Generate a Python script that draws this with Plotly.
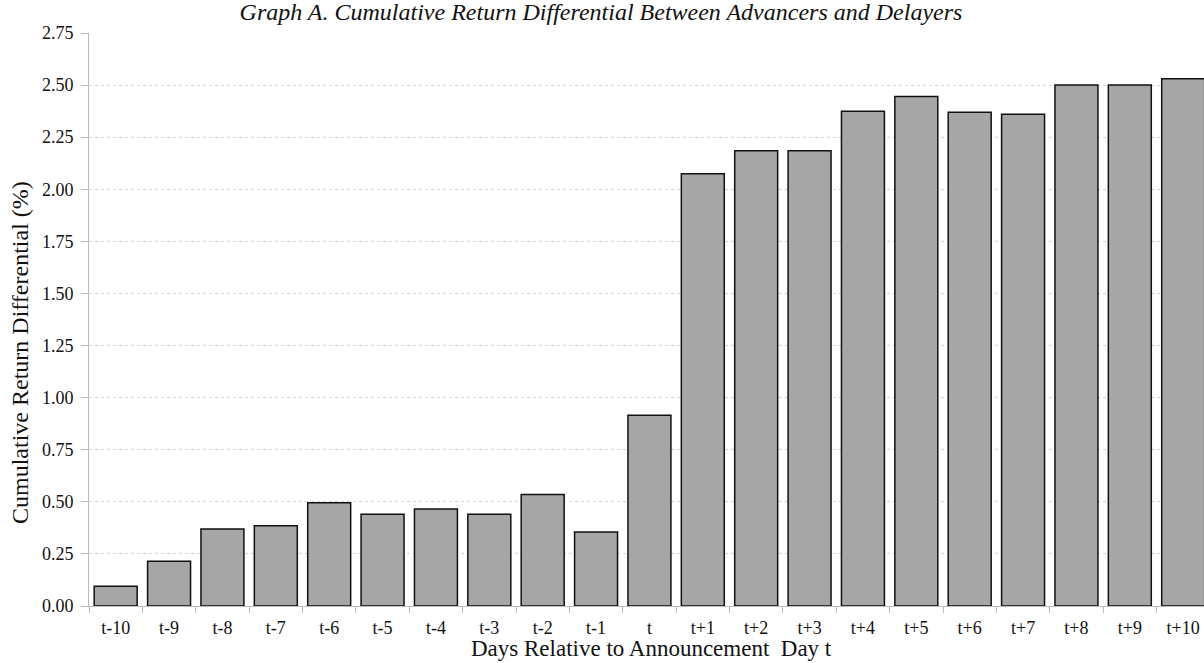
import plotly.graph_objects as go

categories = ["t-10", "t-9", "t-8", "t-7", "t-6", "t-5", "t-4", "t-3", "t-2", "t-1", "t",
              "t+1", "t+2", "t+3", "t+4", "t+5", "t+6", "t+7", "t+8", "t+9", "t+10"]
values = [0.095, 0.215, 0.37, 0.385, 0.495, 0.44, 0.465, 0.44, 0.535, 0.355, 0.915,
          2.075, 2.185, 2.185, 2.375, 2.445, 2.37, 2.36, 2.50, 2.50, 2.53]
y_ticks = [0, 0.25, 0.5, 0.75, 1.0, 1.25, 1.5, 1.75, 2.0, 2.25, 2.5, 2.75]

font_family = "Liberation Serif, DejaVu Serif, serif"

fig = go.Figure(go.Bar(
    x=categories, y=values,
    marker=dict(color="#a6a6a6", line=dict(color="#111111", width=1.5)),
))

fig.update_layout(
    width=1204, height=663,
    margin=dict(l=89, r=0, t=33, b=57),
    paper_bgcolor="white", plot_bgcolor="white",
    bargap=0.195,
    showlegend=False,
    font=dict(family=font_family, size=18, color="#111111"),
    title=dict(text="<i>Graph A. Cumulative Return Differential Between Advancers and Delayers</i>",
               x=601 / 1204, xanchor="center", y=1 - 12 / 663, yanchor="middle",
               font=dict(family=font_family, size=24, color="#111111")),
    annotations=[
        dict(text="Cumulative Return Differential (%)", textangle=-90,
             xref="paper", yref="paper", x=(20 - 89) / 1115, y=(606 - 353) / 573,
             xanchor="center", yanchor="middle", showarrow=False,
             font=dict(family=font_family, size=24, color="#111111")),
        dict(text="Days Relative to Announcement  Day t",
             xref="paper", yref="paper", x=(652 - 89) / 1115, y=(606 - 648) / 573,
             xanchor="center", yanchor="middle", showarrow=False,
             font=dict(family=font_family, size=23, color="#111111")),
    ],
)
fig.update_xaxes(
    type="category", range=[-0.5, 20.39],
    tickson="boundaries", ticks="outside", ticklen=6, tickcolor="#bbbbbb",
    showline=True, linecolor="#bbbbbb", linewidth=1,
    showgrid=False,
    ticklabelstandoff=5,
    tickfont=dict(size=18),
)
fig.update_yaxes(
    range=[0, 2.75], tickvals=y_ticks, tickformat=".2f",
    ticks="outside", ticklen=7, tickcolor="#bbbbbb",
    showline=True, linecolor="#bbbbbb", linewidth=1,
    showgrid=True, gridcolor="#d2d2d2", griddash="dot", gridwidth=1,
    zeroline=False,
    ticklabelstandoff=4,
    tickfont=dict(size=18),
)

fig.write_html("out.html", config={"displayModeBar": False},
               post_script="document.body.style.margin='0';document.body.style.padding='0';")
